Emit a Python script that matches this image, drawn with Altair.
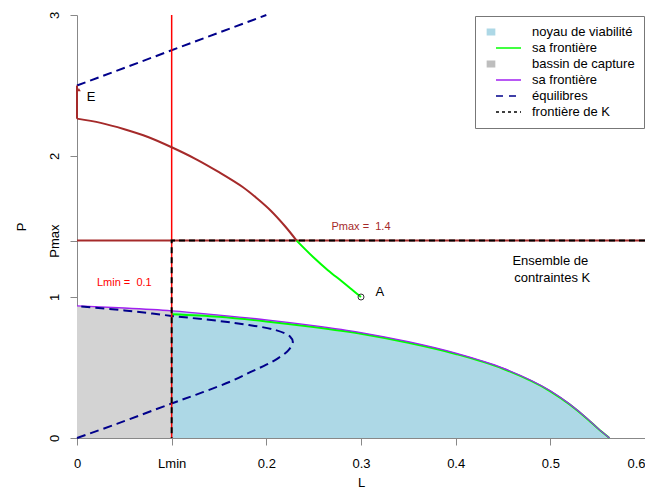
import json
import altair as alt
import pandas as pd

FONT = "Liberation Sans"

# ---- constants / ticks ----
LMIN = 0.1
PMAX = 1.4
X_TICKS = [0, 0.1, 0.2, 0.3, 0.4, 0.5, 0.6]
X_TICK_LABELS = ["0", "Lmin", "0.2", "0.3", "0.4", "0.5", "0.6"]
Y_TICKS = [0, 1, 1.4, 2, 3]
Y_TICK_LABELS = ["0", "1", "Pmax", "2", "3"]

# ---- frontier of the capture basin (purple) ----
FRONT_L = [0.0, 0.05, 0.1, 0.15, 0.2, 0.25, 0.3, 0.35, 0.4, 0.45, 0.5, 0.52, 0.54, 0.55, 0.5625]
FRONT_P = [0.937, 0.922, 0.902, 0.872, 0.838, 0.797, 0.748, 0.683, 0.602, 0.496, 0.335, 0.243, 0.132, 0.07, 0.0]

# ---- frontier of the viability kernel (green) ----
GREEN_L = [0.1, 0.15, 0.2, 0.25, 0.3, 0.35, 0.4, 0.45, 0.5, 0.52, 0.54, 0.55, 0.5625]
GREEN_P = [0.878, 0.860, 0.827, 0.787, 0.739, 0.675, 0.596, 0.491, 0.331, 0.240, 0.130, 0.069, 0.0]

# ---- equilibria (dark blue dashed) ----
EQ_P = [0.0, 0.1, 0.245, 0.325, 0.4, 0.467, 0.52, 0.56, 0.62, 0.68, 0.72, 0.765, 0.80, 0.83, 0.866, 0.905, 0.935]
EQ_L = [0.0, 0.042, 0.1, 0.133, 0.162, 0.183, 0.2, 0.211, 0.223, 0.228, 0.225, 0.21, 0.183, 0.15, 0.1, 0.05, 0.0]
EQ2_L = [0.0, 0.2]
EQ2_P = [2.5, 3.0]

# ---- trajectory from E (brown) and to A (green) ----
DROP_L = [0.0, 0.0]
DROP_P = [2.5, 2.265]
TRAJ_L = [0.0, 0.025, 0.05, 0.075, 0.1, 0.125, 0.15, 0.175, 0.19, 0.205, 0.22, 0.232]
TRAJ_P = [2.265, 2.235, 2.19, 2.135, 2.062, 1.98, 1.885, 1.78, 1.70, 1.61, 1.50, 1.4]
TRAJA_L = [0.232, 0.25, 0.265, 0.28, 0.29, 0.3]
TRAJA_P = [1.4, 1.28, 1.19, 1.11, 1.055, 1.0]

A_L, A_P = [0.3], [1.0]
E_L, E_P = [0.002], [2.47]

# ---- annotations ----
NOTE_TEXT = ["Lmin =\u00a0 0.1", "Pmax =\u00a0 1.4", "Ensemble de", "contraintes K", "A", "E"]
NOTE_L = [0.05, 0.3, 0.5, 0.502, 0.32, 0.015]
NOTE_P = [1.1, 1.495, 1.252, 1.138, 1.039, 2.415]
NOTE_COLOR = ["#ff0000", "#a52a2a", "#000000", "#000000", "#000000", "#000000"]
NOTE_SIZE = [11, 11, 13, 13, 13, 13]

# ---- legend ----
LEGEND_ITEMS = ["noyau de viabilité", "sa frontière", "bassin de capture", "sa frontière ", "équilibres", "frontière de K"]
LEGEND_FILL = ["#add8e6", "transparent", "#bebebe", "transparent", "transparent", "transparent"]
LEGEND_STROKE = ["#add8e6", "#00ff00", "#bebebe", "#a020f0", "#00008b", "#000000"]
SQUARE = "M -0.6 -0.45 H 0.6 V 0.45 H -0.6 Z"
STROKE = "M 0.833 0 H 5"
LEGEND_SHAPE = [SQUARE, STROKE, SQUARE, STROKE, STROKE, STROKE]
LEGEND_DASH = [[1, 0], [1, 0], [1, 0], [1, 0], [7, 6], [3, 3]]

# ---------------------------------------------------------------
x_lab = f"{json.dumps(X_TICK_LABELS)}[indexof({json.dumps(X_TICKS)}, datum.value)]"
y_lab = f"{json.dumps(Y_TICK_LABELS)}[indexof({json.dumps(Y_TICKS)}, datum.value)]"

X = alt.X(
    "L:Q",
    scale=alt.Scale(domain=[0, 0.6], nice=False, zero=False),
    axis=alt.Axis(
        values=X_TICKS, labelExpr=x_lab, title="L", grid=False,
        domainColor="#888888", tickColor="#888888", tickSize=7,
        labelFont=FONT, labelFontSize=13, labelColor="#000000", labelPadding=12,
        labelFlush=False, labelOverlap=False,
        labelAlign={"condition": {"test": "datum.value >= 0.6", "value": "right"}, "value": "center"},
        titleFont=FONT, titleFontSize=13, titleFontWeight="normal", titleColor="#000000",
        titleBaseline="top", titleY=38,
    ),
)
Y = alt.Y(
    "P:Q",
    scale=alt.Scale(domain=[0, 3], nice=False, zero=False),
    axis=alt.Axis(
        values=Y_TICKS, labelExpr=y_lab, title="P", grid=False,
        domainColor="#888888", tickColor="#888888", tickSize=7,
        labelFont=FONT, labelFontSize=13, labelColor="#000000", labelPadding=9,
        labelAngle=270, labelAlign="center", labelBaseline="bottom",
        labelFlush=False, labelOverlap=False,
        titleFont=FONT, titleFontSize=13, titleFontWeight="normal", titleColor="#000000",
        titleAngle=270, titleAlign="center", titleBaseline="bottom", titleX=-49,
    ),
)


def df_line(Ls, Ps):
    return pd.DataFrame({"L": Ls, "P": Ps, "i": list(range(len(Ls)))})


grey_df = df_line(FRONT_L[:3], FRONT_P[:3])
blue_df = df_line(FRONT_L[2:], FRONT_P[2:])
front_df = df_line(FRONT_L, FRONT_P)
green_df = df_line(GREEN_L, GREEN_P)
eq_df = df_line(EQ_L, EQ_P)
eq2_df = df_line(EQ2_L, EQ2_P)
drop_df = df_line(DROP_L, DROP_P)
traj_df = df_line(TRAJ_L, TRAJ_P)
traja_df = df_line(TRAJA_L, TRAJA_P)
kb_df = df_line([0.6, LMIN, LMIN], [PMAX, PMAX, 0.0])
lmin_df = pd.DataFrame({"L": [LMIN]})
pmax_df = pd.DataFrame({"P": [PMAX]})
a_df = pd.DataFrame({"L": A_L, "P": A_P})
e_df = pd.DataFrame({"L": E_L, "P": E_P})
note_df = pd.DataFrame({"L": NOTE_L, "P": NOTE_P, "label": NOTE_TEXT,
                        "color": NOTE_COLOR, "size": NOTE_SIZE})
legend_df = pd.DataFrame({"item": LEGEND_ITEMS, "L": [0.0] * 6, "P": [0.0] * 6})

order = alt.Order("i:Q")
SMOOTH = "monotone"

grey = alt.Chart(grey_df).mark_area(color="#d3d3d3", interpolate=SMOOTH, opacity=1).encode(x=X, y=Y)
blue = alt.Chart(blue_df).mark_area(color="#add8e6", interpolate=SMOOTH, opacity=1).encode(x=X, y=Y)
green = alt.Chart(green_df).mark_line(color="#00ff00", strokeWidth=2, interpolate=SMOOTH).encode(x=X, y=Y, order=order)
purple = alt.Chart(front_df).mark_line(color="#a020f0", strokeWidth=1.3, interpolate=SMOOTH).encode(x=X, y=Y, order=order)
eq = alt.Chart(eq_df).mark_line(color="#00008b", strokeWidth=2, strokeDash=[9, 5], interpolate="catmull-rom").encode(x=X, y=Y, order=order)
eq2 = alt.Chart(eq2_df).mark_line(color="#00008b", strokeWidth=2, strokeDash=[9, 5]).encode(x=X, y=Y, order=order)
lmin = alt.Chart(lmin_df).mark_rule(color="#ff0000", strokeWidth=1.5).encode(x=X)
pmax = alt.Chart(pmax_df).mark_rule(color="#a52a2a", strokeWidth=2).encode(y=Y)
kb = alt.Chart(kb_df).mark_line(color="#000000", strokeWidth=2, strokeDash=[6, 4]).encode(x=X, y=Y, order=order)
drop = alt.Chart(drop_df).mark_line(color="#a52a2a", strokeWidth=2).encode(x=X, y=Y, order=order)
traj = alt.Chart(traj_df).mark_line(color="#a52a2a", strokeWidth=2, interpolate="catmull-rom").encode(x=X, y=Y, order=order)
traja = alt.Chart(traja_df).mark_line(color="#00ff00", strokeWidth=2, interpolate="catmull-rom").encode(x=X, y=Y, order=order)
pt_a = alt.Chart(a_df).mark_point(shape="circle", size=36, filled=False, color="#333333", strokeWidth=1, opacity=1).encode(x=X, y=Y)
pt_e = alt.Chart(e_df).mark_point(shape="triangle-up", size=14, filled=True, color="#a52a2a", opacity=1).encode(x=X, y=Y)
notes = alt.Chart(note_df).mark_text(font=FONT, align="center", baseline="middle").encode(
    x=X, y=Y, text="label:N",
    color=alt.Color("color:N", scale=None),
    size=alt.Size("size:Q", scale=None),
)

leg = alt.Legend(
    title=None, orient="none", legendX=398, legendY=1,
    fillColor="white", strokeColor="#777777", padding=9,
    symbolSize=144, symbolStrokeWidth=1.5, symbolOpacity=1, symbolOffset=0,
    labelFont=FONT, labelFontSize=13, labelColor="#000000", labelOffset=34,
    rowPadding=2, labelLimit=300,
)
dom = LEGEND_ITEMS
legend_layer = alt.Chart(legend_df).mark_point(opacity=0, size=144).encode(
    x=X, y=Y,
    fill=alt.Fill("item:N", scale=alt.Scale(domain=dom, range=LEGEND_FILL), legend=leg),
    stroke=alt.Stroke("item:N", scale=alt.Scale(domain=dom, range=LEGEND_STROKE), legend=leg),
    shape=alt.Shape("item:N", scale=alt.Scale(domain=dom, range=LEGEND_SHAPE), legend=leg),
    strokeDash=alt.StrokeDash("item:N", scale=alt.Scale(domain=dom, range=LEGEND_DASH), legend=leg),
)

chart = alt.layer(
    grey, blue, green, purple, eq, eq2, lmin, pmax, kb, drop, traj, traja, pt_a, pt_e, notes, legend_layer
).properties(
    width=568, height=423,
    padding={"left": 69, "top": 7, "right": 0, "bottom": 53},
    autosize=alt.AutoSizeParams(type="none"),
    background="white",
).configure_view(stroke=None)

chart.save("out.html", embed_options={"renderer": "svg", "actions": False})
